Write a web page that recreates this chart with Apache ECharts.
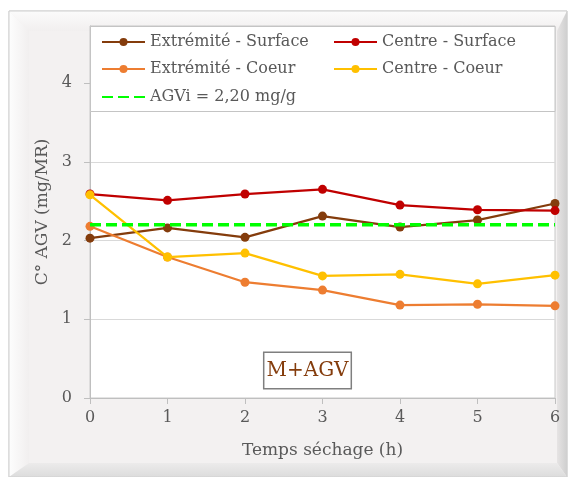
<!DOCTYPE html>
<html>
<head>
<meta charset="utf-8">
<script src="https://cdn.jsdelivr.net/npm/echarts@6.0.0/dist/echarts.min.js"></script>
<style>
  html, body { margin: 0; padding: 0; background: #ffffff; }
  #chart { width: 571px; height: 477px; }
</style>
</head>
<body>
<div id="chart"></div>
<script>
// Drying time (hours)
const hours = [0, 1, 2, 3, 4, 5, 6];
// Measured AGV content per sampling position
const extremiteSurface = [2.03, 2.16, 2.04, 2.31, 2.17, 2.26, 2.47];
const centreSurface    = [2.59, 2.51, 2.59, 2.65, 2.45, 2.39, 2.38];
const extremiteCoeur   = [2.18, 1.79, 1.47, 1.37, 1.18, 1.19, 1.17];
const centreCoeur      = [2.58, 1.79, 1.84, 1.55, 1.57, 1.45, 1.56];
// Initial AGV reference level
const agviLevel = 2.20;
const yTickValues = [0, 1, 2, 3, 4];
const xTickValues = [0, 1, 2, 3, 4, 5, 6];

const seriesNames = ['Extrémité - Surface', 'Centre - Surface', 'Extrémité - Coeur', 'Centre - Coeur'];
const seriesValues = [extremiteSurface, centreSurface, extremiteCoeur, centreCoeur];
const seriesColors = ['#843C0C', '#C00000', '#ED7D31', '#FFC000'];
const agviName = 'AGVi = ' + agviLevel.toFixed(2).replace('.', ',') + ' mg/g';

const FONT = '"DejaVu Serif", serif';
const TXT = '#595959';

const chart = echarts.init(document.getElementById('chart'), null, { renderer: 'canvas' });

const pairs = vals => hours.map((h, i) => [h, vals[i]]);

const series = seriesNames.map((name, k) => ({
  name,
  type: 'line',
  data: pairs(seriesValues[k]),
  color: seriesColors[k],
  symbol: 'circle',
  symbolSize: 9,
  lineStyle: { width: 2.25, color: seriesColors[k] },
  itemStyle: { color: seriesColors[k] },
  z: 2 + k
}));
series.push({
  name: agviName,
  type: 'line',
  data: [[hours[0], agviLevel], [hours[hours.length - 1], agviLevel]],
  color: '#00FF00',
  symbol: 'none',
  lineStyle: { width: 3.5, color: '#00FF00', type: [11, 5] },
  z: 8
});

// one legend per entry so the two columns line up
const legendSlots = [
  { name: seriesNames[0], left: 101, top: 34 },
  { name: seriesNames[1], left: 333, top: 34 },
  { name: seriesNames[2], left: 101, top: 61 },
  { name: seriesNames[3], left: 333, top: 61 },
  { name: agviName,       left: 101, top: 89, noMarker: true }
];
const legends = legendSlots.map(s => {
  const lg = {
    data: [s.name],
    left: s.left,
    top: s.top,
    padding: 0,
    itemWidth: 43,
    itemHeight: 10,
    itemGap: 0,
    selectedMode: false,
    z: 6,
    textStyle: { fontFamily: FONT, fontSize: 16, color: TXT, lineHeight: 16, padding: [0, 0, 0, 0] }
  };
  if (s.noMarker) lg.itemStyle = { opacity: 0 };
  return lg;
});

const option = {
  animation: false,
  backgroundColor: '#ffffff',
  graphic: {
    elements: [
      // bevelled chart frame
      { type: 'rect', z: -10, shape: { x: 9, y: 11, width: 558, height: 466 },
        style: { fill: '#f3f1f1', stroke: '#d4d4d4', lineWidth: 1 } },
      { type: 'polygon', z: -9, shape: { points: [[9, 11], [567, 11], [557, 31], [29, 31]] },
        style: { fill: new echarts.graphic.LinearGradient(0, 0, 0, 1, [
          { offset: 0, color: '#fbfbfb' }, { offset: 1, color: '#f1efef' }]) } },
      { type: 'polygon', z: -9, shape: { points: [[9, 11], [29, 31], [29, 463], [9, 477]] },
        style: { fill: new echarts.graphic.LinearGradient(0, 0, 1, 0, [
          { offset: 0, color: '#fdfdfd' }, { offset: 1, color: '#f1efef' }]) } },
      { type: 'polygon', z: -9, shape: { points: [[567, 11], [567, 477], [557, 463], [557, 31]] },
        style: { fill: new echarts.graphic.LinearGradient(0, 0, 1, 0, [
          { offset: 0, color: '#e6e4e4' }, { offset: 1, color: '#cfcfcf' }]) } },
      { type: 'polygon', z: -9, shape: { points: [[9, 477], [29, 463], [557, 463], [567, 477]] },
        style: { fill: new echarts.graphic.LinearGradient(0, 0, 0, 1, [
          { offset: 0, color: '#ecebeb' }, { offset: 1, color: '#dcdcdc' }]) } },
      { type: 'rect', z: -9, shape: { x: 9, y: 11, width: 558, height: 466 },
        style: { fill: 'none', stroke: '#d0d0d0', lineWidth: 1 } },
      // legend box
      { type: 'rect', z: 5, shape: { x: 90.5, y: 26.5, width: 464.5, height: 85 },
        style: { fill: '#ffffff', stroke: '#c4c4c4', lineWidth: 1 } },
      // sample tag
      { type: 'text', z: 10, x: 307.5, y: 370.5,
        style: { text: 'M+AGV', font: '20px "DejaVu Serif", serif', fill: '#843C0C',
          align: 'center', verticalAlign: 'middle', lineHeight: 24,
          borderColor: '#7f7f7f', borderWidth: 1.5, backgroundColor: '#ffffff',
          padding: [6, 2, 5, 2] } }
    ]
  },
  legend: legends,
  grid: {
    left: 90, top: 26, width: 465, height: 372,
    show: true, backgroundColor: '#ffffff', borderColor: '#c8c8c8', borderWidth: 1,
    containLabel: false
  },
  xAxis: {
    type: 'value', min: 0, max: 6, interval: 1,
    name: 'Temps séchage (h)', nameLocation: 'middle', nameGap: 44,
    nameTextStyle: { fontFamily: FONT, fontSize: 17, color: TXT },
    axisLine: { show: true, lineStyle: { color: '#bfbfbf', width: 1 } },
    axisTick: { show: true, length: 6, inside: false, lineStyle: { color: '#bfbfbf' }, customValues: xTickValues },
    axisLabel: { fontFamily: FONT, fontSize: 16, color: TXT, margin: 12, customValues: xTickValues },
    splitLine: { show: false }
  },
  yAxis: {
    type: 'value', min: 0, max: 372 / 78.75, interval: 1,
    name: 'C° AGV (mg/MR)', nameLocation: 'middle', nameGap: 36, nameRotate: 90,
    nameTextStyle: { fontFamily: FONT, fontSize: 17, color: TXT },
    axisLine: { show: true, lineStyle: { color: '#bfbfbf', width: 1 } },
    axisTick: { show: true, length: 6, inside: false, lineStyle: { color: '#bfbfbf' }, customValues: yTickValues },
    axisLabel: { fontFamily: FONT, fontSize: 16, color: TXT, margin: 18, customValues: yTickValues },
    splitLine: { show: true, lineStyle: { color: '#d9d9d9', width: 1 } }
  },
  series
};

chart.setOption(option);
</script>
</body>
</html>
